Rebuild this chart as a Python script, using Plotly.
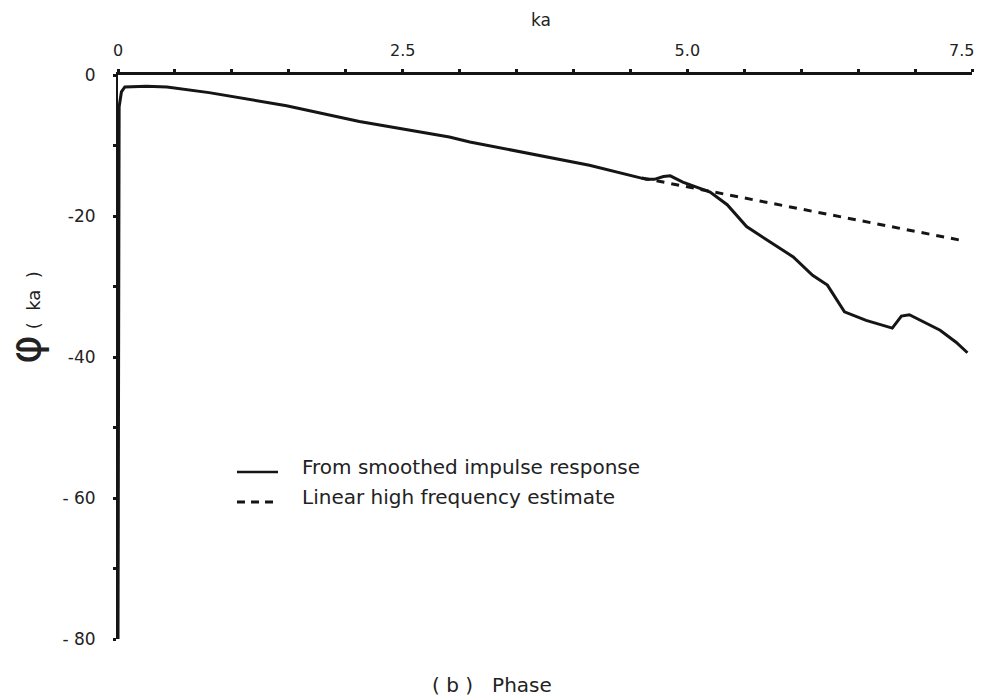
import plotly.graph_objects as go

# Phase of the transfer function versus ka
ka_vals = [0.0, 0.004, 0.01, 0.03, 0.06, 0.25, 0.43, 0.8, 1.16, 1.48, 2.12, 2.91, 3.09,
           3.64, 4.14, 4.64, 4.71, 4.79, 4.85, 4.96, 5.20, 5.35, 5.52, 5.70, 5.93,
           6.10, 6.23, 6.38, 6.57, 6.80, 6.88, 6.95, 7.22, 7.36, 7.46]
phase_vals = [-80.0, -20.0, -4.5, -2.4, -1.7, -1.6, -1.7, -2.5, -3.45, -4.35, -6.6, -8.8, -9.5,
              -11.2, -12.8, -14.8, -14.8, -14.4, -14.3, -15.2, -16.6, -18.4, -21.5, -23.4, -25.8,
              -28.4, -29.8, -33.6, -34.8, -35.9, -34.2, -34.0, -36.2, -37.9, -39.4]

# Linear high frequency estimate
est_ka = [4.6, 7.42]
est_phase = [-14.6, -23.5]

x_ticks = [i * 0.5 for i in range(16)]
x_labels = {0.0: "0", 2.5: "2.5", 5.0: "5.0"}
x_end_label = "7.5"
y_ticks = [-10 * i for i in range(9)]
y_labels = {0: "0", -20: "-20", -40: "-40", -60: "- 60", -80: "- 80"}

FONT = "'DejaVu Sans', sans-serif"
INK = "#151515"
TXT = "#222"

fig = go.Figure()
fig.add_trace(go.Scatter(x=ka_vals, y=phase_vals, mode="lines",
                         line=dict(color=INK, width=3), showlegend=False,
                         cliponaxis=False))
fig.add_trace(go.Scatter(x=est_ka, y=est_phase, mode="lines",
                         line=dict(color=INK, width=3, dash="8px,7px"),
                         showlegend=False))

fig.update_layout(
    width=981, height=700,
    margin=dict(l=118, r=9, t=75, b=61),
    paper_bgcolor="white", plot_bgcolor="white",
    font=dict(family=FONT, color=TXT, size=16),
    xaxis=dict(range=[0, 7.5], side="top", showgrid=False, zeroline=False,
               showline=True, linecolor=INK, linewidth=3, automargin=False,
               tickvals=x_ticks, ticktext=[x_labels.get(v, "") for v in x_ticks],
               ticks="outside", ticklen=3, tickwidth=3, tickcolor=INK,
               ticklabelstandoff=7,
               tickfont=dict(size=16, color=TXT)),
    yaxis=dict(range=[-80, 0], showgrid=False, zeroline=False,
               showline=True, linecolor=INK, linewidth=2, automargin=False,
               tickvals=y_ticks, ticktext=[y_labels.get(v, "") for v in y_ticks],
               ticks="outside", ticklen=3, tickwidth=3, tickcolor=INK,
               ticklabelstandoff=14,
               tickfont=dict(size=17, color=TXT)),
)

# Last x tick label, kept inside the page at the right-hand end of the axis
fig.add_annotation(text=x_end_label, xref="x", yref="paper", x=7.5, y=1,
                   xanchor="right", yanchor="middle", xshift=4, yshift=25,
                   showarrow=False, font=dict(size=16, color=TXT))

# Axis titles and caption
fig.add_annotation(text="ka", xref="paper", yref="paper", x=(541 - 118) / 854, y=1,
                   yanchor="middle", yshift=55, showarrow=False,
                   font=dict(size=17, color=TXT))
fig.add_annotation(text="<span style='font-size:44px'>φ</span> (  ka  )", textangle=-90,
                   xref="paper", yref="paper", x=-(118 - 24) / 854, y=(639 - 318) / 564,
                   xanchor="center", yanchor="middle", showarrow=False,
                   font=dict(size=18, color=TXT))
fig.add_annotation(text="( b )&nbsp;&nbsp;&nbsp;Phase", xref="paper", yref="paper",
                   x=(492 - 118) / 854, y=-(685 - 639) / 564, yanchor="middle",
                   showarrow=False, font=dict(size=20, color=TXT))

# Key
key_x0, key_x1 = (237 - 118) / 854, (278 - 118) / 854
for row, (label, dash) in enumerate([("From smoothed impulse response", "solid"),
                                     ("Linear high frequency estimate", "dash")]):
    yk = (639 - (472 + 30 * row)) / 564
    fig.add_shape(type="line", xref="paper", yref="paper", x0=key_x0, x1=key_x1,
                  y0=yk, y1=yk, line=dict(color=INK, width=2.5 if dash == "solid" else 3,
                                          dash="solid" if dash == "solid" else "8px,6px"))
    fig.add_annotation(text=label, xref="paper", yref="paper", x=(300 - 118) / 854,
                       y=yk, xanchor="left", yanchor="middle", showarrow=False, yshift=5,
                       font=dict(size=20, color=TXT))

fig.write_html("out.html")
